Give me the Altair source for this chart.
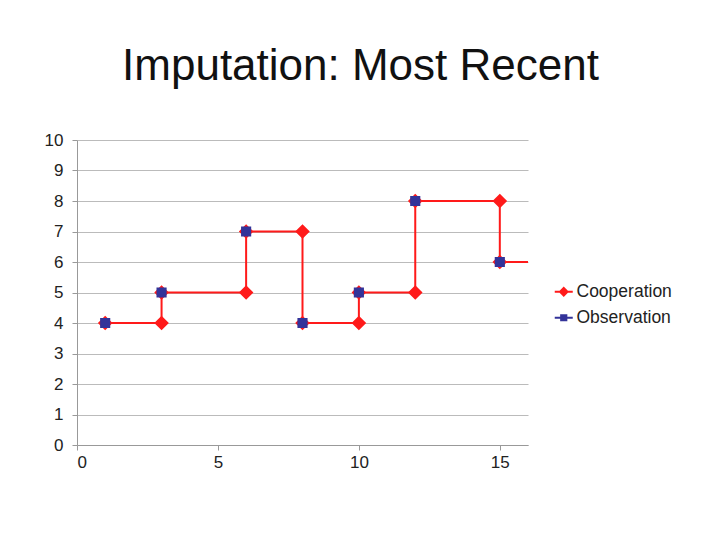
import altair as alt
import pandas as pd

# Observed values
obs_x = [1, 3, 6, 8, 10, 12, 15]
obs_y = [4, 5, 7, 4, 5, 8, 6]

# Imputed (most recent) cooperation series: marker vertices
coop_x = [1, 3, 3, 6, 6, 8, 8, 10, 10, 12, 12, 15, 15]
coop_y = [4, 4, 5, 5, 7, 7, 4, 4, 5, 5, 8, 8, 6]

# line continues to the right edge of the axis
line_end_x = 16
line_end_y = 6

series_names = ["Cooperation", "Observation"]
series_colors = ["#ff1a1a", "#333399"]
x_ticks = [0, 5, 10, 15]
y_ticks = [0, 1, 2, 3, 4, 5, 6, 7, 8, 9, 10]

pts = pd.DataFrame(
    {"x": coop_x + obs_x,
     "y": coop_y + obs_y,
     "series": ["Cooperation"] * len(coop_x) + ["Observation"] * len(obs_x),
     "order": list(range(len(coop_x) + len(obs_x)))}
)
line_df = pd.DataFrame({"x": coop_x + [line_end_x], "y": coop_y + [line_end_y]}).reset_index()

diamond = "M-1.8,0H1.8M0,-0.75L0.75,0L0,0.75L-0.75,0Z"
square = "M-1.8,0H1.8M-0.52,-0.52H0.52V0.52H-0.52Z"

xs = alt.Scale(domain=[0, 16], nice=False)
ys = alt.Scale(domain=[0, 10], nice=False)
x_axis = alt.Axis(values=x_ticks, tickCount=20, format="d", grid=False, title=None, labelPadding=4)
y_axis = alt.Axis(values=y_ticks, tickCount=20, format="d", grid=True, title=None,
                  labelPadding=9, labelOverlap=False, labelFlush=False)

line = alt.Chart(line_df).mark_line(color=series_colors[0], strokeWidth=2).encode(
    x=alt.X("x:Q", scale=xs, axis=x_axis),
    y=alt.Y("y:Q", scale=ys, axis=y_axis),
    order="index:Q",
)

leg = alt.Legend(title=None, orient="none", legendX=478, legendY=143,
                 labelFontSize=17.5, symbolSize=100, symbolStrokeWidth=2,
                 rowPadding=7, labelOffset=4)

points = alt.Chart(pts).mark_point(filled=True, opacity=1, size=380, strokeWidth=0).encode(
    x=alt.X("x:Q", scale=xs, axis=x_axis),
    y=alt.Y("y:Q", scale=ys, axis=y_axis),
    color=alt.Color("series:N", scale=alt.Scale(domain=series_names, range=series_colors), legend=leg),
    shape=alt.Shape("series:N", scale=alt.Scale(domain=series_names, range=[diamond, square]), legend=leg),
    stroke=alt.Stroke("series:N", scale=alt.Scale(domain=series_names, range=series_colors), legend=leg),
    order="order:Q",
)

chart = (
    alt.layer(line, points)
    .properties(
        width=451, height=305,
        autosize=alt.AutoSizeParams(type="none"),
        padding={"left": 69, "top": 132, "right": 184, "bottom": 87},
        title=alt.TitleParams("Imputation: Most Recent", fontSize=44, font="Liberation Sans",
                              fontWeight="normal", color="#111111", anchor="middle",
                              dx=58, offset=7, baseline="alphabetic"),
    )
    .configure_view(stroke=None)
    .configure_axis(
        labelFont="Liberation Sans", labelFontSize=17, labelColor="#222222",
        domainColor="#999999", tickColor="#999999", gridColor="#bbbbbb",
        tickSize=5,
    )
    .configure_legend(labelFont="Liberation Sans", labelColor="#222222")
)

chart.save("out.html", embed_options={"renderer": "svg", "actions": False})
